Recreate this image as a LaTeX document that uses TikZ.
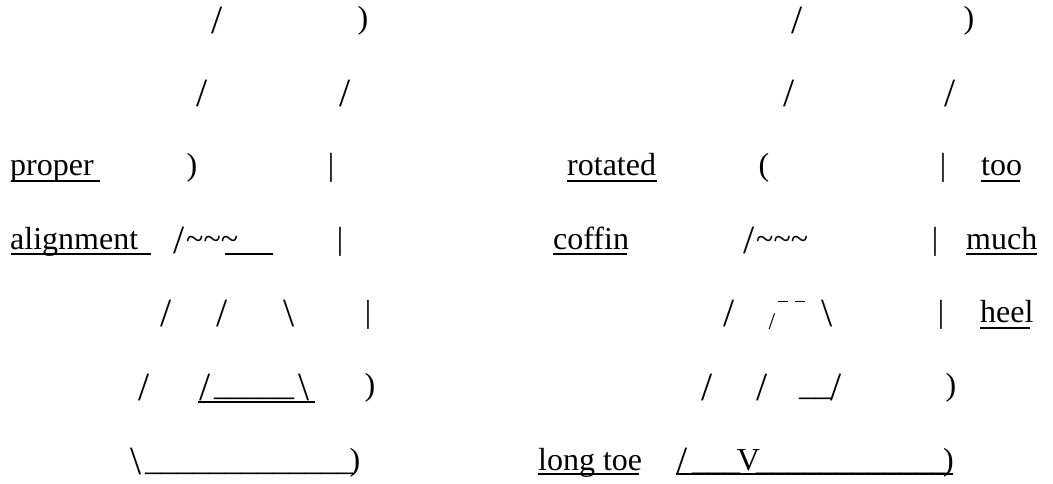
\documentclass[tikz,border=0pt]{standalone}
\usepackage{fontspec}
\setmainfont{Liberation Serif}
\tikzset{
  ch/.style={inner sep=0pt, anchor=base, font=\fontsize{32}{32}\selectfont},
  sy/.style={ch},
  sl/.style={ch, font=\fontsize{40}{40}\selectfont, yshift=-4.5pt},
  wd/.style={ch, anchor=base west},
  uline/.style={line width=1.5pt, line cap=butt},
  tick/.style={line width=0.9pt}
}
\newcommand{\us}{\textunderscore}
\begin{document}
\begin{tikzpicture}[x=1pt,y=-1pt]
\useasboundingbox (0,0) rectangle (1053,483);
% row baselines
\def\ra{28.5}\def\rb{101.75}\def\rc{175}\def\rd{249}
\def\re{322}\def\rf{395.5}\def\rg{470}

% ---------- left boot ----------
\node[sl] (l1a) at (217,\ra) {/};
\node[sy] (l1b) at (363,\ra) {)};
\node[sl] (l2a) at (202,\rb) {/};
\node[sl] (l2b) at (345,\rb) {/};
\node[wd] (proper) at (10,\rc) {proper};
\node[sy] (l3a) at (192,\rc) {)};
\node[sy] (l3b) at (331,\rc) {|};
\node[wd] (alignment) at (10,\rd) {alignment};
\node[sl] (l4s) at (179,\rd) {/};
\node[wd] (l4a) at (186,\rd) {\textasciitilde\textasciitilde\textasciitilde};
\node[sy] (l4b) at (340,\rd) {|};
\node[sl] (l5a) at (166,\re) {/};
\node[sl] (l5b) at (222,\re) {/};
\node[sl] (l5c) at (289,\re) {\textbackslash};
\node[sy] (l5d) at (368,\re) {|};
\node[sl] (l6a) at (144,\rf) {/};
\node[sl] (l6b) at (205,\rf) {/};
\node[wd] (l6u) at (214,\rf) {\us\us\us\us\us};
\node[sl] (l6c) at (304,\rf) {\textbackslash};
\node[sy] (l6d) at (370,\rf) {)};
\node[sl] (l7a) at (136,\rg) {\textbackslash};
\node[wd] (l7u) at (145,\rg) {\us\us\us\us\us\us\us\us\us\us\us\us\us};
\node[sy] (l7b) at (355,\rg) {)};

\draw[uline] (11,181) -- (100,181);
\draw[uline] (11,254) -- (151,254);
\draw[uline] (225,254) -- (273,254);
\draw[uline] (198,402) -- (315,402);

% ---------- right boot ----------
\node[sl] (r1a) at (797,\ra) {/};
\node[sy] (r1b) at (969,\ra) {)};
\node[sl] (r2a) at (789,\rb) {/};
\node[sl] (r2b) at (950,\rb) {/};
\node[wd] (rotated) at (567,\rc) {rotated};
\node[sy] (r3a) at (764,\rc) {(};
\node[sy] (r3b) at (943,\rc) {|};
\node[wd] (too) at (981,\rc) {too};
\node[wd] (coffin) at (553,\rd) {coffin};
\node[sl] (r4s) at (749,\rd) {/};
\node[wd] (r4a) at (756,\rd) {\textasciitilde\textasciitilde\textasciitilde};
\node[sy] (r4b) at (935,\rd) {|};
\node[wd] (much) at (966,\rd) {much};
\node[sl] (r5a) at (729,\re) {/};
\node[ch, font=\fontsize{24}{24}\selectfont] (r5s) at (772,329) {/};
\draw[tick] (778,301) -- (788,301);
\draw[tick] (795,301) -- (805,301);
\node[sl] (r5c) at (827,\re) {\textbackslash};
\node[sy] (r5d) at (941,\re) {|};
\node[wd] (heel) at (980,\re) {heel};
\node[sl] (r6a) at (707,\rf) {/};
\node[sl] (r6b) at (762,\rf) {/};
\node[wd] (r6u) at (799,\rf) {\us\us};
\node[sl] (r6c) at (836,\rf) {/};
\node[sy] (r6d) at (951,\rf) {)};
\node[wd] (longtoe) at (538,\rg) {long toe};
\node[sl] (r7a) at (682,\rg) {/};
\node[wd] (r7u) at (692,\rg) {\us\us\us};
\node[ch] (r7v) at (748.5,\rg) {V};
\node[wd] (r7w) at (756,\rg) {\us\us\us\us\us\us\us\us\us\us\us\us};
\node[sy] (r7b) at (948.5,\rg) {)};

\draw[uline] (567,181) -- (657,181);
\draw[uline] (981,181) -- (1020,181);
\draw[uline] (553,254) -- (627,254);
\draw[uline] (966,254) -- (1037,254);
\draw[uline] (980,328) -- (1030,328);
\draw[uline] (538,474) -- (639,474);
\draw[uline] (676,474) -- (953,474);
\end{tikzpicture}
\end{document}
